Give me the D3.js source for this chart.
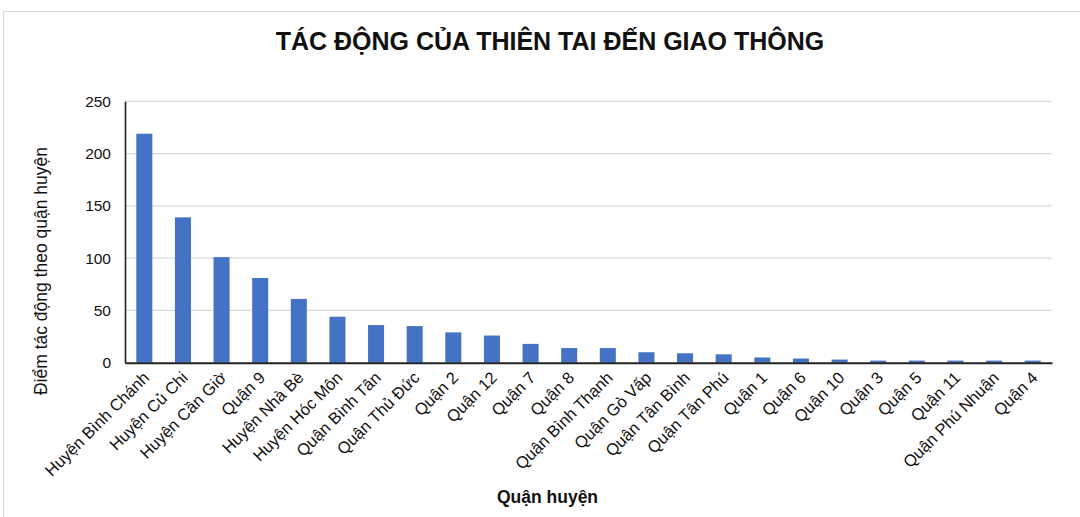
<!DOCTYPE html>
<html>
<head>
<meta charset="utf-8">
<script src="https://cdn.jsdelivr.net/npm/d3@7"></script>
<style>
  html, body { margin: 0; padding: 0; background: #fff; }
  svg { display: block; font-family: "Liberation Sans", Arial, sans-serif; }
</style>
</head>
<body>
<svg id="chart" width="1080" height="517"></svg>
<script>
const categories = ["Huyện Bình Chánh","Huyện Củ Chi","Huyện Cần Giờ","Quận 9","Huyện Nhà Bè","Huyện Hóc Môn","Quận Bình Tân","Quận Thủ Đức","Quận 2","Quận 12","Quận 7","Quận 8","Quận Bình Thạnh","Quận Gò Vấp","Quận Tân Bình","Quận Tân Phú","Quận 1","Quận 6","Quận 10","Quận 3","Quận 5","Quận 11","Quận Phú Nhuận","Quận 4"];
const values = [219,139,101,81,61,44,36,35,29,26,18,14,14,10,9,8,5,4,3,2,2,2,2,2];
const yTicks = [0,50,100,150,200,250];
const title = "TÁC ĐỘNG CỦA THIÊN TAI ĐẾN GIAO THÔNG";
const xTitle = "Quận huyện";
const yTitle = "Điểm tác động theo quận huyện";

const svg = d3.select("#chart");
const W = 1080, H = 517;
const m = {left: 125, right: 1052, top: 101.3, bottom: 362.7};

// frame
svg.append("rect").attr("x", 3.5).attr("y", 11.5).attr("width", W).attr("height", H)
  .attr("fill", "#fff").attr("stroke", "#d9d9d9").attr("stroke-width", 1);

const x = d3.scaleBand().domain(categories).range([m.left, m.right]).paddingInner(0.585).paddingOuter(0.2925);
const y = d3.scaleLinear().domain([0, 250]).range([m.bottom, m.top]);

// gridlines
svg.append("g").selectAll("line").data(yTicks.filter(d => d > 0)).join("line")
  .attr("x1", m.left).attr("x2", m.right)
  .attr("y1", d => y(d)).attr("y2", d => y(d))
  .attr("stroke", "#d9d9d9").attr("stroke-width", 1.3);

// bars
svg.append("g").selectAll("rect").data(categories).join("rect")
  .attr("x", d => x(d)).attr("width", x.bandwidth())
  .attr("y", (d, i) => y(values[i])).attr("height", (d, i) => y(0) - y(values[i]))
  .attr("fill", "#4472c4");

// y axis
const yAxis = svg.append("g").attr("transform", `translate(${m.left},0)`)
  .call(d3.axisLeft(y).tickValues(yTicks).tickSize(0).tickPadding(14));
yAxis.select(".domain").attr("stroke", "#222").attr("stroke-width", 1.6);
yAxis.selectAll("text").attr("font-size", 15.5).attr("fill", "#111")
  .attr("font-family", "Liberation Sans, Arial, sans-serif");

// x axis
const xAxis = svg.append("g").attr("transform", `translate(0,${m.bottom})`)
  .call(d3.axisBottom(x).tickSize(0).tickPadding(0));
xAxis.select(".domain").attr("stroke", "#222").attr("stroke-width", 2);
xAxis.selectAll("text")
  .attr("font-size", 16.5).attr("fill", "#111")
  .attr("font-family", "Liberation Sans, Arial, sans-serif")
  .attr("text-anchor", "end")
  .attr("dy", null).attr("y", 0)
  .attr("transform", "translate(6,16) rotate(-45)");

// title
svg.append("text").attr("x", 550).attr("y", 50).attr("text-anchor", "middle")
  .attr("font-size", 25).attr("font-weight", "bold").attr("fill", "#111").text(title);

// x title
svg.append("text").attr("x", 547.5).attr("y", 503).attr("text-anchor", "middle")
  .attr("font-size", 17.5).attr("font-weight", "bold").attr("fill", "#111").text(xTitle);

// y title
svg.append("text").attr("transform", "translate(47,271) rotate(-90)").attr("text-anchor", "middle")
  .attr("font-size", 17.5).attr("fill", "#111").text(yTitle);
</script>
</body>
</html>
